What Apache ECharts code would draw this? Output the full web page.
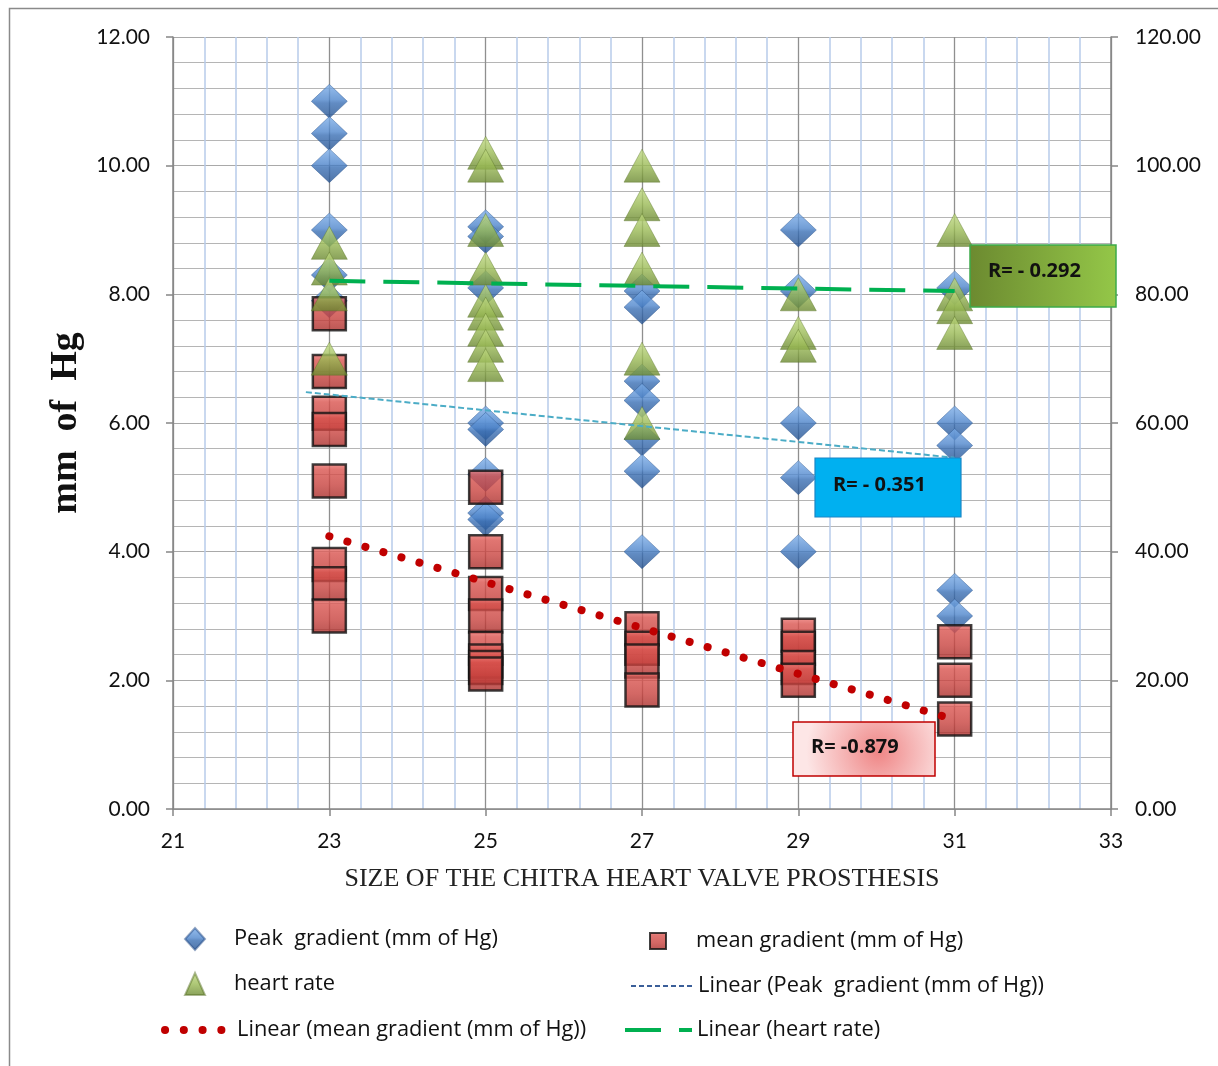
<!DOCTYPE html>
<html>
<head>
<meta charset="utf-8">
<title>Chitra heart valve prosthesis – gradients and heart rate</title>
<script src="https://cdn.jsdelivr.net/npm/echarts@6/dist/echarts.min.js"></script>
<style>
  html, body { margin: 0; padding: 0; background: #ffffff; }
  #chart { width: 1218px; height: 1066px; }
</style>
</head>
<body>
<div id="chart"></div>
<script>
// Valve sizes (mm) on the x axis
const valveSizes = [23, 25, 27, 29, 31];

// Peak gradient (mm of Hg), one list per valve size
const peakGradient = [
  [11.0, 10.5, 10.0, 9.0, 8.3, 7.9],
  [9.05, 8.9, 8.1, 6.0, 5.9, 5.2, 4.6, 4.5],
  [8.05, 7.8, 6.65, 6.35, 5.75, 5.25, 4.0],
  [9.0, 8.05, 6.0, 5.15, 4.0],
  [8.1, 6.0, 5.65, 3.4, 3.0]
];

// Mean gradient (mm of Hg), one list per valve size
const meanGradient = [
  [7.7, 6.8, 6.15, 5.9, 5.1, 3.8, 3.5, 3.0],
  [5.0, 4.0, 3.35, 3.0, 2.5, 2.3, 2.2, 2.1],
  [2.8, 2.5, 2.3, 1.85],
  [2.7, 2.5, 2.2, 2.0],
  [2.6, 2.0, 1.4]
];

// Heart rate (beats/min, secondary axis), one list per valve size
const heartRate = [
  [88, 84, 80, 70],
  [102, 100, 90, 84, 79, 77, 74.5, 72, 69],
  [100, 94, 90, 84, 70, 60],
  [80, 74, 72],
  [90, 80, 78, 74]
];

// Linear trend line end points [size, value]
const peakTrend = [[22.7, 6.48], [31, 5.46]];
const meanTrend = [[23, 4.24], [31, 1.39]];
const heartTrend = [[23, 82.1], [31, 80.5]];

// Axis ranges and tick spacing
const xTicks = { min: 21, max: 33, step: 2 };
const yLeftTicks = { min: 0, max: 12, step: 2 };
const yRightTicks = { min: 0, max: 120, step: 20 };

// Correlation coefficients shown in the call-out boxes
const rHeart = 'R= - 0.292';
const rPeak = 'R= - 0.351';
const rMean = 'R= -0.879';

const names = {
  peak: 'Peak  gradient (mm of Hg)',
  mean: 'mean gradient (mm of Hg)',
  heart: 'heart rate',
  peakLin: 'Linear (Peak  gradient (mm of Hg))',
  meanLin: 'Linear (mean gradient (mm of Hg))',
  heartLin: 'Linear (heart rate)'
};

function toPoints(groups) {
  const pts = [];
  groups.forEach((vals, i) => vals.forEach(v => pts.push([valveSizes[i], v])));
  return pts;
}

const FONT = 'Lato, "Open Sans", sans-serif';
const LEGEND_FONT = '"Open Sans", Lato, sans-serif';
const SERIF = '"Liberation Serif", "DejaVu Serif", serif';

function vgrad(stops) {
  return { type: 'linear', x: 0, y: 0, x2: 0, y2: 1,
           colorStops: stops.map(s => ({ offset: s[0], color: s[1] })) };
}

const blueFill = vgrad([[0, '#7fb0ea'], [0.45, '#4f86cc'], [0.55, '#3a6fb4'], [1, '#24518f']]);
const redFill = vgrad([[0, '#ef7d79'], [0.18, '#d9534e'], [0.6, '#c8423e'], [1, '#a82c29']]);
const greenFill = vgrad([[0, '#c3dc86'], [0.5, '#9aba55'], [1, '#6a8830']]);

const legendText = { fontFamily: LEGEND_FONT, fontSize: 21.8, color: '#111' };

const chart = echarts.init(document.getElementById('chart'), null, { renderer: 'canvas' });

chart.setOption({
  animation: false,
  backgroundColor: '#ffffff',
  grid: { left: 173, right: 107, top: 37, bottom: 257, containLabel: false },
  xAxis: {
    type: 'value',
    min: xTicks.min, max: xTicks.max, interval: xTicks.step,
    name: 'SIZE OF THE CHITRA HEART VALVE PROSTHESIS',
    nameLocation: 'middle', nameGap: 57,
    nameTextStyle: { fontFamily: SERIF, fontSize: 26, color: '#222' },
    axisLine: { show: true, lineStyle: { color: '#868686', width: 1.5 } },
    axisTick: { show: true, length: 7, lineStyle: { color: '#868686', width: 1.5 } },
    axisLabel: { margin: 22, fontFamily: FONT, fontSize: 21, color: '#111',
                 formatter: v => String(v) },
    splitLine: { show: true, lineStyle: { color: '#8f8f8f', width: 1.3 } },
    minorTick: { show: false, splitNumber: 5 },
    minorSplitLine: { show: true, lineStyle: { color: '#b8cbea', width: 1.5 } }
  },
  yAxis: [
    {
      type: 'value',
      min: yLeftTicks.min, max: yLeftTicks.max, interval: yLeftTicks.step,
      name: 'mm  of  Hg', nameLocation: 'middle', nameGap: 85, nameRotate: 90,
      nameTextStyle: { fontFamily: SERIF, fontWeight: 'bold', fontSize: 38, color: '#111' },
      axisLine: { show: true, lineStyle: { color: '#868686', width: 1.5 } },
      axisTick: { show: true, length: 7, lineStyle: { color: '#868686', width: 1.5 } },
      axisLabel: { margin: 23, fontFamily: FONT, fontSize: 21, color: '#111',
                   formatter: v => v.toFixed(2) },
      splitLine: { show: true, lineStyle: { color: '#a9a9a9', width: 1.2 } },
      minorTick: { show: false, splitNumber: 5 },
      minorSplitLine: { show: true, lineStyle: { color: '#b5b5b5', width: 1.2 } }
    },
    {
      type: 'value', position: 'right',
      min: yRightTicks.min, max: yRightTicks.max, interval: yRightTicks.step,
      axisLine: { show: true, lineStyle: { color: '#868686', width: 1.5 } },
      axisTick: { show: true, length: 7, lineStyle: { color: '#868686', width: 1.5 } },
      axisLabel: { margin: 24, fontFamily: FONT, fontSize: 21, color: '#111',
                   formatter: v => v.toFixed(2) },
      splitLine: { show: false }
    }
  ],
  legend: [
    { data: [{ name: names.peak }], left: 184, top: 927, padding: 0, itemWidth: 20, itemHeight: 22,
      selectedMode: false, textStyle: Object.assign({ padding: [0, 0, 0, 24] }, legendText) },
    { data: [{ name: names.mean }], left: 649, top: 930, padding: 0, itemWidth: 16, itemHeight: 16,
      selectedMode: false, textStyle: Object.assign({ padding: [0, 0, 0, 25] }, legendText) },
    { data: [{ name: names.heart }], left: 184, top: 972, padding: 0, itemWidth: 20, itemHeight: 22,
      selectedMode: false, textStyle: Object.assign({ padding: [0, 0, 0, 24] }, legendText) },
    { data: [{ name: names.peakLin }], left: 630, top: 975, padding: 0, itemWidth: 62, itemHeight: 14,
      selectedMode: false, itemStyle: { opacity: 0 },
      lineStyle: { color: '#3b5f99', width: 2, type: [5, 3] },
      textStyle: Object.assign({ padding: [0, 0, 0, 0] }, legendText) },
    { data: [{ name: names.meanLin }], left: 161, top: 1019, padding: 0, itemWidth: 60, itemHeight: 14,
      selectedMode: false, itemStyle: { opacity: 0 },
      lineStyle: { width: 8 },
      textStyle: Object.assign({ padding: [0, 0, 0, 7] }, legendText) },
    { data: [{ name: names.heartLin }], left: 623, top: 1019, padding: 0, itemWidth: 67, itemHeight: 14,
      selectedMode: false, itemStyle: { opacity: 0 },
      lineStyle: { width: 4 },
      textStyle: Object.assign({ padding: [0, 0, 0, 0] }, legendText) }
  ],
  series: [
    {
      name: names.peak, type: 'scatter', data: toPoints(peakGradient),
      symbol: 'diamond', symbolSize: [36, 34],
      itemStyle: { color: blueFill, borderColor: 'rgba(30,70,130,0.6)', borderWidth: 0.8 },
      emphasis: { disabled: true }, z: 3
    },
    {
      name: names.mean, type: 'scatter', data: toPoints(meanGradient),
      symbol: 'rect', symbolSize: 33,
      itemStyle: { color: redFill, borderColor: '#111111', borderWidth: 2.5 },
      emphasis: { disabled: true }, z: 4
    },
    {
      name: names.heart, type: 'scatter', yAxisIndex: 1, data: toPoints(heartRate),
      symbol: 'triangle', symbolSize: [36, 33],
      itemStyle: { color: greenFill, borderColor: 'rgba(85,110,35,0.6)', borderWidth: 0.8 },
      emphasis: { disabled: true }, z: 5
    },
    {
      name: names.peakLin, type: 'line', data: peakTrend, symbol: 'none',
      itemStyle: { color: 'transparent' },
      lineStyle: { color: '#4bacc6', width: 2, type: [6, 3] },
      emphasis: { disabled: true }, z: 6
    },
    {
      name: names.meanLin, type: 'line', data: meanTrend, symbol: 'none',
      itemStyle: { color: 'transparent' },
      lineStyle: { color: '#c00000', width: 8, type: [0.1, 18.67], cap: 'round' },
      emphasis: { disabled: true }, z: 6
    },
    {
      name: names.heartLin, type: 'line', yAxisIndex: 1, data: heartTrend, symbol: 'none',
      itemStyle: { color: 'transparent' },
      lineStyle: { color: '#00b050', width: 4, type: [36, 18] },
      emphasis: { disabled: true }, z: 6
    }
  ],
  graphic: [
    // outer chart frame
    { type: 'rect', z: 0, silent: true,
      shape: { x: 9.5, y: 8.5, width: 1240, height: 1100 },
      style: { fill: 'none', stroke: '#8a8a8a', lineWidth: 1.5 } },
    // heart-rate correlation box
    { type: 'rect', z: 100, silent: true, shape: { x: 970, y: 245, width: 146, height: 62 },
      style: { fill: { type: 'linear', x: 0, y: 0, x2: 1, y2: 0,
                       colorStops: [{ offset: 0, color: '#6c8a30' }, { offset: 1, color: '#94c748' }] },
               stroke: '#3daa4a', lineWidth: 1.5 } },
    { type: 'text', z: 101, silent: true, x: 988, y: 271,
      style: { text: rHeart, font: 'bold 20px "Open Sans", sans-serif',
               fill: '#111', textVerticalAlign: 'middle' } },
    // peak-gradient correlation box
    { type: 'rect', z: 100, silent: true, shape: { x: 815, y: 458, width: 146, height: 59 },
      style: { fill: '#00b0f0', stroke: '#1a86c6', lineWidth: 1.2 } },
    { type: 'text', z: 101, silent: true, x: 833, y: 485,
      style: { text: rPeak, font: 'bold 20px "Open Sans", sans-serif',
               fill: '#111', textVerticalAlign: 'middle' } },
    // mean-gradient correlation box
    { type: 'rect', z: 100, silent: true, shape: { x: 793, y: 722, width: 142, height: 54 },
      style: { fill: { type: 'radial', x: 0.6, y: 0.55, r: 1.3,
                       colorStops: [{ offset: 0, color: '#ef8585' }, { offset: 0.45, color: '#f5b2b2' },
                                    { offset: 1, color: '#fde6e6' }] },
               stroke: '#c00000', lineWidth: 1.5 } },
    { type: 'text', z: 101, silent: true, x: 811, y: 747,
      style: { text: rMean, font: 'bold 20px "Open Sans", sans-serif',
               fill: '#111', textVerticalAlign: 'middle' } }
  ]
});
</script>
</body>
</html>
